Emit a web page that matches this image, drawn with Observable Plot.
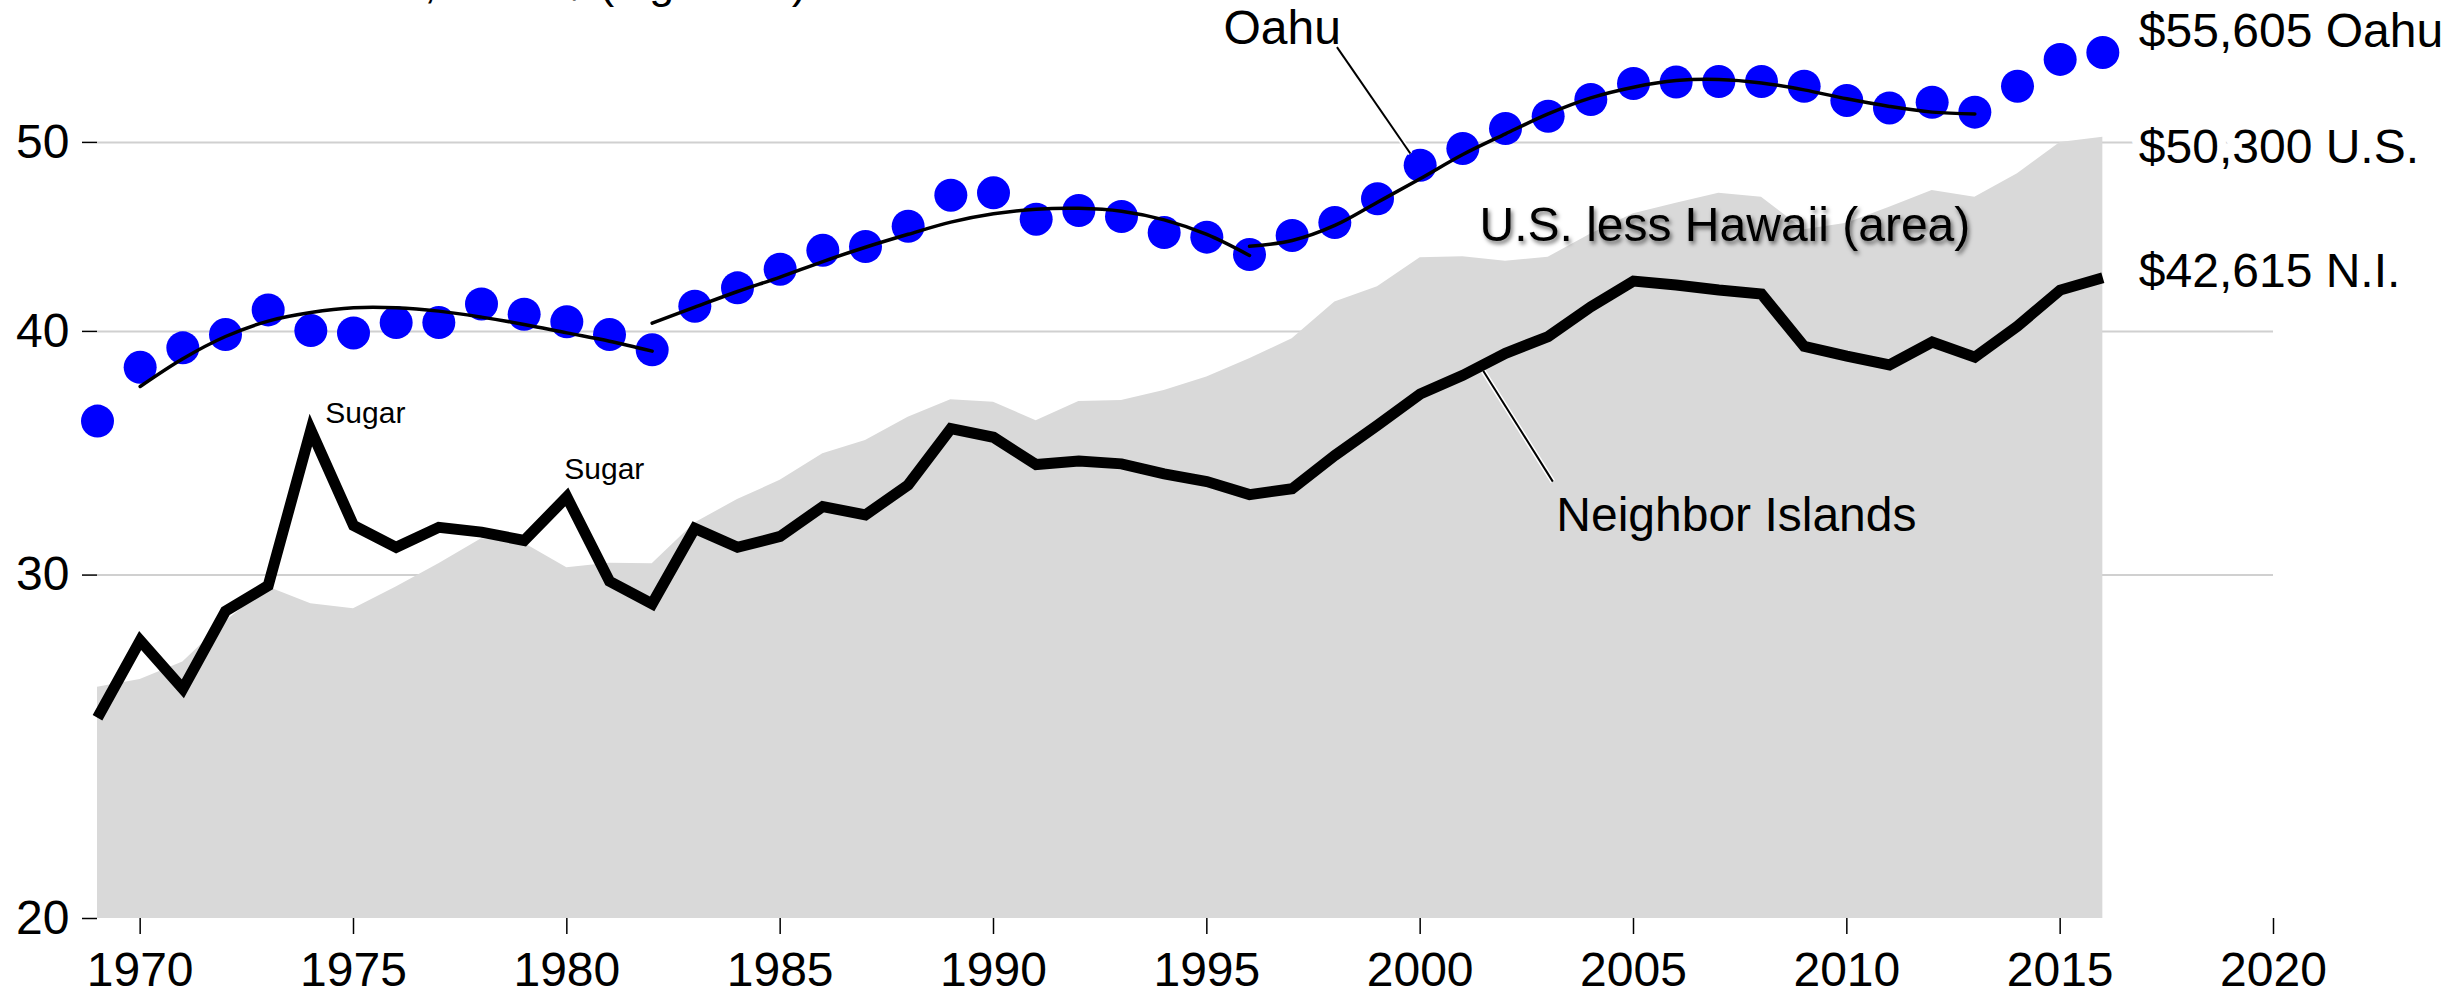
<!DOCTYPE html>
<html>
<head>
<meta charset="utf-8">
<script src="https://cdn.jsdelivr.net/npm/d3@7"></script>
<script src="https://cdn.jsdelivr.net/npm/@observablehq/plot@0.6"></script>
<style>
  html, body { margin: 0; padding: 0; background: #fff; overflow: hidden; }
  #wrap { position: relative; width: 2448px; height: 991px; }
  #title { position: absolute; top: -40px; left: 0; font: 45px "Liberation Sans", Arial, sans-serif; line-height: 45px; white-space: nowrap; color: #000; }
  #chart { position: absolute; top: 0; left: 0; }
</style>
</head>
<body>
<div id="wrap">
  <div id="title"><span id="titleA">Real PCPI in thousands</span>, 2016 $ (log scale)</div>
  <div id="chart"></div>
</div>
<script>
// ---------- data ----------
const years = [1969,1970,1971,1972,1973,1974,1975,1976,1977,1978,1979,1980,1981,1982,1983,1984,1985,1986,1987,1988,1989,1990,1991,1992,1993,1994,1995,1996,1997,1998,1999,2000,2001,2002,2003,2004,2005,2006,2007,2008,2009,2010,2011,2012,2013,2014,2015,2016];

// Oahu real per capita income ($ thousands)
const oahu = [35.98,38.34,39.23,39.85,41.03,40.04,39.93,40.42,40.42,41.32,40.82,40.46,39.85,39.14,41.21,42.11,43.05,44.02,44.22,45.29,46.98,47.11,45.67,46.14,45.81,44.95,44.71,43.80,44.80,45.49,46.78,48.67,49.64,50.83,51.57,52.60,53.60,53.69,53.73,53.73,53.43,52.54,52.08,52.43,51.82,53.43,55.15,55.605];

// Neighbor Islands
const neighbor = [25.35,27.77,26.23,28.75,29.63,35.6,31.81,31.0,31.74,31.56,31.25,32.9,29.78,29.0,31.7,31.0,31.4,32.53,32.21,33.37,35.66,35.30,34.18,34.32,34.21,33.81,33.50,32.99,33.22,34.55,35.8,37.15,37.98,38.98,39.76,41.18,42.45,42.25,42.0,41.81,39.3,38.85,38.45,39.5,38.8,40.25,42.0,42.615];

// U.S. less Hawaii (area)
const usLessHawaii = [26.28,26.52,27.07,28.4,29.58,29.0,28.83,29.58,30.40,31.31,31.15,30.26,30.42,30.40,31.9,32.8,33.55,34.62,35.17,36.15,36.90,36.79,36.0,36.82,36.87,37.30,37.90,38.73,39.65,41.41,42.16,43.63,43.69,43.45,43.66,44.88,45.96,46.54,47.09,46.87,45.1,45.45,46.32,47.24,46.87,48.18,50.0,50.3];

// Oahu trend segments
const trend1Years = [1970,1971,1972,1973,1974,1975,1976,1977,1978,1979,1980,1981,1982];
const trend1 = [37.48,38.73,39.76,40.49,40.90,41.13,41.13,40.97,40.68,40.33,39.93,39.54,39.08];
const trend2Years = [1982,1983,1984,1985,1986,1987,1988,1989,1990,1991,1992,1993,1994,1995,1996];
const trend2 = [40.39,41.16,41.93,42.65,43.44,44.18,44.86,45.51,45.96,46.21,46.26,46.10,45.63,44.85,43.75];
const trend3Years = [1996,1997,1998,1999,2000,2001,2002,2003,2004,2005,2006,2007,2008,2009,2010,2011,2012,2013];
const trend3 = [44.23,44.53,45.33,46.59,47.90,49.29,50.51,51.71,52.70,53.37,53.79,53.86,53.64,53.20,52.64,52.17,51.82,51.71];

// axes
const xTicks = [1970,1975,1980,1985,1990,1995,2000,2005,2010,2015,2020];
const xDomain = [1969, 2020];
const yTicks = [20,30,40,50];
const yDomain = [20, 59.12];
const gridValues = [30,40,50];

// annotations (data coordinates)
const noteText = ["Oahu","U.S. less Hawaii (area)","Neighbor Islands"];
const noteX = [1995.39, 2001.39, 2003.19];
const noteY = [56.13, 44.5, 31.62];
const sugarText = ["Sugar","Sugar"];
const sugarX = [1974.34, 1979.94];
const sugarY = [35.9, 33.62];
const leaderX1 = [1998.05, 2001.48];
const leaderY1 = [55.95, 38.17];
const leaderX2 = [1999.77, 2003.11];
const leaderY2 = [49.35, 33.5];
const endLabels = ["$55,605 Oahu","$50,300 U.S.","$42,615 N.I."];

// ---------- tables ----------
const series = years.map((year, i) => ({year, oahu: oahu[i], ni: neighbor[i], us: usLessHawaii[i]}));
const trend = [
  ...trend1Years.map((year, i) => ({seg: 1, year, v: trend1[i]})),
  ...trend2Years.map((year, i) => ({seg: 2, year, v: trend2[i]})),
  ...trend3Years.map((year, i) => ({seg: 3, year, v: trend3[i]}))
];
const notes = noteText.map((t, i) => ({t, x: noteX[i], y: noteY[i]}));
const sugars = sugarText.map((t, i) => ({t, x: sugarX[i], y: sugarY[i]}));
const leaders = leaderX1.map((x1, i) => ({x1, y1: leaderY1[i], x2: leaderX2[i], y2: leaderY2[i]}));
const last = series[series.length - 1];
const ends = [
  {t: endLabels[0], year: last.year, v: last.oahu, dy: -21},
  {t: endLabels[1], year: last.year, v: last.us, dy: 10},
  {t: endLabels[2], year: last.year, v: last.ni, dy: -6}
];

const font = '"Liberation Sans", Arial, sans-serif';

const chart = Plot.plot({
  width: 2448,
  height: 991,
  marginLeft: 97,
  marginRight: 175,
  marginTop: 0,
  marginBottom: 73,
  style: {fontFamily: font, fontSize: "48px", background: "transparent", color: "#000", overflow: "visible"},
  x: {domain: xDomain, label: null},
  y: {type: "log", domain: yDomain, label: null},
  marks: [
    Plot.ruleY(gridValues, {stroke: "#d0d0d0", strokeWidth: 2}),
    Plot.areaY(series, {x: "year", y1: yTicks[0], y2: "us", fill: "#d9d9d9"}),
    Plot.axisX({ticks: xTicks, tickFormat: d => String(d), tickSize: 16, tickPadding: 17, strokeWidth: 1.5, fontSize: 48, label: null}),
    Plot.axisY({ticks: yTicks, tickFormat: d => String(d), tickSize: 15, tickPadding: 13, strokeWidth: 1.5, fontSize: 48, label: null}),
    // neighbor leader (white edge then black)
    Plot.link([leaders[1]], {x1: "x1", y1: "y1", x2: "x2", y2: "y2", stroke: "white", strokeWidth: 5}),
    Plot.link([leaders[1]], {x1: "x1", y1: "y1", x2: "x2", y2: "y2", stroke: "black", strokeWidth: 2}),
    Plot.line(series, {x: "year", y: "ni", stroke: "black", strokeWidth: 11, strokeLinejoin: "miter", strokeMiterlimit: 10, strokeLinecap: "butt"}),
    Plot.dot(series, {x: "year", y: "oahu", r: 16.5, fill: "#0000ff", stroke: null}),
    Plot.line(trend, {x: "year", y: "v", z: "seg", stroke: "black", strokeWidth: 3.5, curve: "catmull-rom"}),
    Plot.link([leaders[0]], {x1: "x1", y1: "y1", x2: "x2", y2: "y2", stroke: "white", strokeWidth: 5}),
    Plot.link([leaders[0]], {x1: "x1", y1: "y1", x2: "x2", y2: "y2", stroke: "black", strokeWidth: 2}),
    Plot.text(notes, {x: "x", y: "y", text: "t", textAnchor: "start", lineAnchor: "bottom", fontSize: 48, fill: "black"}),
    Plot.text(sugars, {x: "x", y: "y", text: "t", textAnchor: "start", lineAnchor: "bottom", fontSize: 30, fill: "black"}),
    ...ends.map(e => Plot.text([e], {x: "year", y: "v", text: "t", textAnchor: "start", dx: 36, dy: e.dy, fontSize: 48, fill: "black", stroke: "white", strokeWidth: 18, paintOrder: "stroke"}))
  ]
});

document.getElementById("chart").appendChild(chart);

// shadow on the area label
chart.querySelectorAll("text").forEach(t => {
  if (t.textContent === "U.S. less Hawaii (area)") {
    t.style.filter = "drop-shadow(2px 3px 2px rgba(0,0,0,0.55))";
  }
});

// place the (cropped) title so that its comma lands where the reference shows it
const a = document.getElementById("titleA");
const w = a.getBoundingClientRect().width;
document.getElementById("title").style.left = (424 - w) + "px";
</script>
</body>
</html>
